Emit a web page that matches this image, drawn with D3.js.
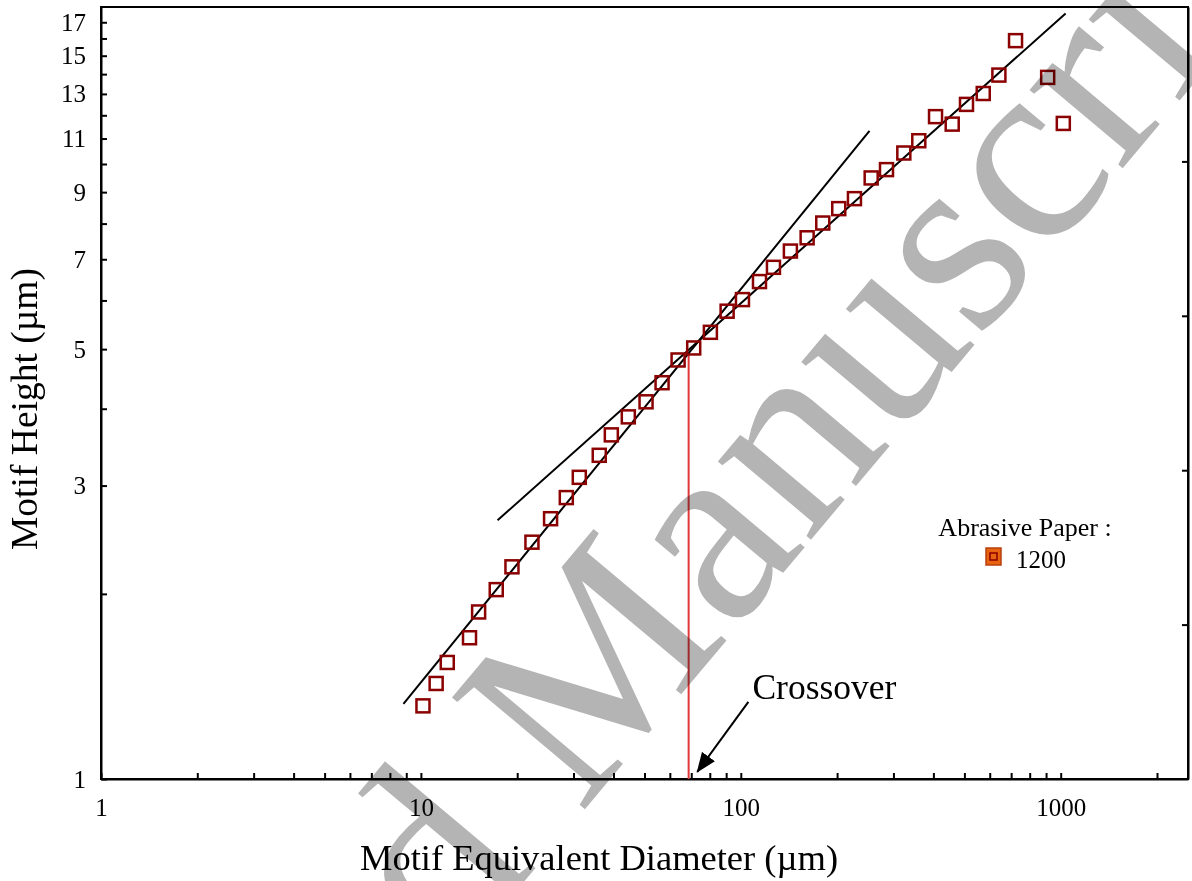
<!DOCTYPE html>
<html>
<head>
  <title>Motif Height vs Motif Equivalent Diameter</title>
  <script src="https://d3js.org/d3.v7.min.js"></script>
  <style>
    body { margin: 0; background: #fff; }
    svg text { font-family: "Liberation Serif", "Times New Roman", serif; fill: #000; }
    .axis path, .axis line { stroke: #000; stroke-width: 2; }
  </style>
</head>
<body>
  <div id="chart"></div>

  <script>
    // values (abrasive paper 1200)
    const diameter = [10.15, 11.16, 12.09, 14.19, 15.15, 17.20, 19.26, 22.24, 25.43, 28.48,
      31.27, 36.1, 39.38, 44.50, 50.56, 56.74, 63.68, 71.25, 80.34, 90.62,
      101.2, 114.4, 126.5, 142.9, 161.2, 180.4, 202.4, 226.6, 255.6, 285.4,
      323.3, 360.1, 406.2, 458.0, 507.6, 572.6, 640.9, 722.5, 910.5, 1019];
    const motifHeight = [1.315, 1.430, 1.547, 1.697, 1.869, 2.032, 2.213, 2.427, 2.650, 2.868,
      3.094, 3.36, 3.627, 3.880, 4.105, 4.409, 4.801, 5.022, 5.325, 5.763,
      6.019, 6.439, 6.792, 7.218, 7.586, 8.017, 8.461, 8.783, 9.491, 9.792,
      10.42, 10.91, 11.94, 11.61, 12.50, 13.02, 13.95, 15.87, 13.83, 11.64];

    // the two straight fits, as end points [diameter, height]
    const fitSmall = [[8.82, 1.325], [252.5, 11.32]];
    const fitLarge = [[17.36, 2.634], [1036, 17.57]];

    // crossover marker and its arrow
    const crossover = [[68.7, 1], [68.7, 4.95]];
    const arrow = [[105.6, 1.335], [73.1, 1.027]];
    const crossLabel = { x: 108.7, y: 1.35, text: "Crossover" };

    const xLabelTicks = [1, 10, 100, 1000];
    const yLabelTicks = [1, 3, 5, 7, 9, 11, 13, 15, 17];
    const seriesName = "1200";

    const margin = { top: 7, right: 4, bottom: 102, left: 101 };
    const W = 1192, H = 881;
    const width = W - margin.left - margin.right;
    const height = H - margin.top - margin.bottom;

    const svg = d3.select("#chart").append("svg")
      .attr("width", W).attr("height", H);
    const g = svg.append("g")
      .attr("transform", "translate(" + margin.left + "," + margin.top + ")");

    const x = d3.scaleLog().domain([1, 2500]).range([0, width]);
    const y = d3.scaleLog().domain([1, 18]).range([height, 0]);
    const yRight = d3.scaleLinear().domain([0, 5]).range([height, 0]);

    // minor ticks on every integer step of each decade
    const xTicks = [];
    for (let dec = 1; dec <= 1000; dec *= 10) {
      for (let k = 1; k <= 9; k++) if (dec * k <= 2500) xTicks.push(dec * k);
    }
    const yTicks = d3.range(1, 18);

    // frame
    g.append("rect")
      .attr("width", width).attr("height", height)
      .attr("fill", "none").attr("stroke", "#000").attr("stroke-width", 2);

    g.append("g").attr("class", "axis")
      .attr("transform", "translate(0," + height + ")")
      .call(d3.axisBottom(x).tickValues(xTicks).tickSize(-6).tickSizeOuter(0).tickPadding(19)
        .tickFormat(d => xLabelTicks.includes(d) ? d : ""))
      .call(a => a.selectAll("text").attr("font-size", 25).attr("font-family", null));

    g.append("g").attr("class", "axis")
      .call(d3.axisLeft(y).tickValues(yTicks).tickSize(-6).tickSizeOuter(0).tickPadding(15)
        .tickFormat(d => yLabelTicks.includes(d) ? d : ""))
      .call(a => a.selectAll("text").attr("font-size", 25).attr("font-family", null));

    g.append("g").attr("class", "axis")
      .attr("transform", "translate(" + width + ",0)")
      .call(d3.axisRight(yRight).tickValues([1, 2, 3, 4]).tickSize(-6).tickSizeOuter(0).tickFormat(""));

    const line = d3.line().x(d => x(d[0])).y(d => y(d[1]));

    // crossover vertical
    g.append("path").datum(crossover).attr("d", line)
      .attr("stroke", "#e0393b").attr("stroke-width", 2).attr("fill", "none");

    // fit lines
    [fitSmall, fitLarge].forEach(f => {
      g.append("path").datum(f).attr("d", line)
        .attr("stroke", "#000").attr("stroke-width", 2).attr("fill", "none");
    });

    // data squares
    const pts = diameter.map((d, i) => ({ d: d, h: motifHeight[i] }));
    const s = 13;
    g.selectAll(".pt").data(pts).enter().append("rect")
      .attr("class", "pt")
      .attr("x", p => x(p.d) - s / 2).attr("y", p => y(p.h) - s / 2)
      .attr("width", s).attr("height", s)
      .attr("fill", "none").attr("stroke", "#8b0000").attr("stroke-width", 2.5);

    // arrow
    svg.append("defs").append("marker")
      .attr("id", "head").attr("viewBox", "0 0 20 16")
      .attr("refX", 19).attr("refY", 8)
      .attr("markerWidth", 20).attr("markerHeight", 16)
      .attr("markerUnits", "userSpaceOnUse")
      .attr("orient", "auto")
      .append("path").attr("d", "M0,0 L20,8 L0,16 z").attr("fill", "#000");
    g.append("path").datum(arrow).attr("d", line)
      .attr("stroke", "#000").attr("stroke-width", 2).attr("fill", "none")
      .attr("marker-end", "url(#head)");

    g.append("text")
      .attr("x", x(crossLabel.x)).attr("y", y(crossLabel.y))
      .attr("font-size", 35.5)
      .text(crossLabel.text);

    // legend
    const leg = g.append("g").attr("transform", "translate(" + (1025 - margin.left) + "," + (536 - margin.top) + ")");
    leg.append("text").attr("text-anchor", "middle").attr("font-size", 26).text("Abrasive Paper :");
    leg.append("rect").attr("x", -39).attr("y", 12).attr("width", 15).attr("height", 17)
      .attr("fill", "#e8630f").attr("stroke", "#b8400e").attr("stroke-width", 1.5);
    leg.append("rect").attr("x", -35).attr("y", 17).attr("width", 7).attr("height", 7)
      .attr("fill", "none").attr("stroke", "#8b0000").attr("stroke-width", 1.5);
    leg.append("text").attr("x", -9).attr("y", 32).attr("font-size", 25).text(seriesName);

    // axis titles
    svg.append("text")
      .attr("x", 599).attr("y", 870)
      .attr("text-anchor", "middle").attr("font-size", 36.5)
      .text("Motif Equivalent Diameter (\u00b5m)");
    svg.append("text")
      .attr("transform", "translate(37,409) rotate(-90)")
      .attr("text-anchor", "middle").attr("font-size", 37.5)
      .text("Motif Height (\u00b5m)");

    // watermark on top
    const wm = svg.append("g")
      .attr("transform", "translate(580,815) rotate(-50)")
      .style("mix-blend-mode", "multiply");
    wm.append("text").attr("x", -66).attr("text-anchor", "end")
      .attr("font-size", 265).style("fill", "#b4b4b4").text("Accepted");
    wm.append("text").attr("x", 0)
      .attr("font-size", 265).style("fill", "#b4b4b4").text("Manuscript");
  </script>
</body>
</html>
